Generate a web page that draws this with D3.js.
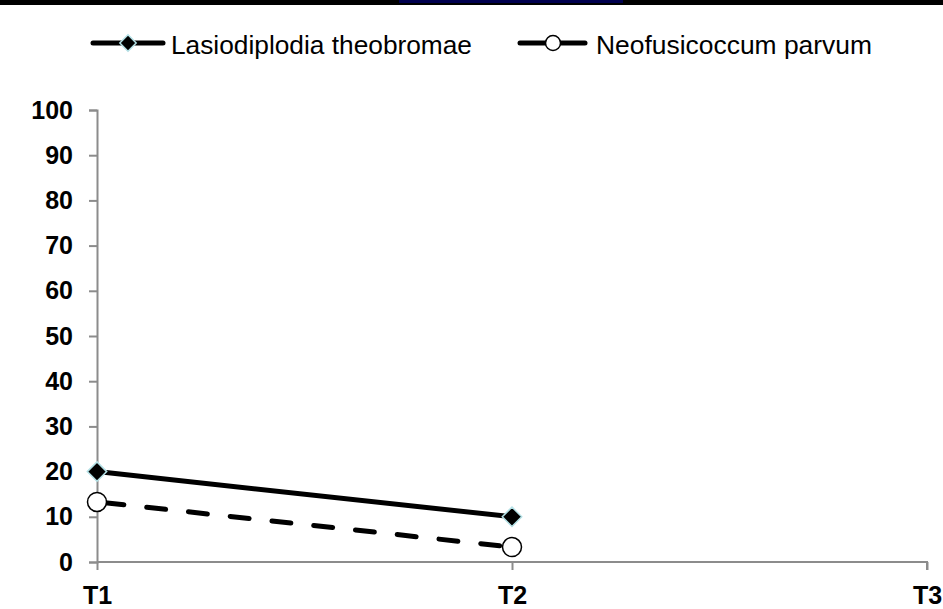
<!DOCTYPE html>
<html>

<head>
    <meta charset="UTF-8">
    <title>Line chart</title>
    <style>
        body {
            margin: 0;
            background: #fff;
        }

        svg {
            display: block;
            font-family: Arial, "Liberation Sans", sans-serif;
        }

        .axis path,
        .axis line {
            stroke: #8c8c8c;
            stroke-width: 2px;
        }

        .axis text {
            font-weight: bold;
            font-size: 25px;
            fill: #000;
        }
    </style>
</head>

<body>
    <div class="chartBox"></div>

    <script src="https://d3js.org/d3.v7.min.js"></script>
    <script>
        // data
        const categories = ["T1", "T2", "T3"];
        const lasiodiplodia = [20, 10, null];
        const neofusicoccum = [13.3, 3.3, null];
        const yTicks = [0, 10, 20, 30, 40, 50, 60, 70, 80, 90, 100];
        const seriesNames = ["Lasiodiplodia theobromae", "Neofusicoccum parvum"];

        const width = 943, height = 609;
        const plot = { left: 97, right: 927, top: 110, bottom: 562 };

        const svg = d3.select(".chartBox")
            .append("svg")
            .attr("width", width)
            .attr("height", height);

        // top strip
        svg.append("rect")
            .attr("x", 0).attr("y", 0)
            .attr("width", width).attr("height", 5)
            .attr("fill", "#000");
        svg.append("rect")
            .attr("x", 399).attr("y", 0)
            .attr("width", 224).attr("height", 3)
            .attr("fill", "#00004f");

        // scales
        const x = d3.scalePoint()
            .domain(categories)
            .range([plot.left, plot.right]);

        const y = d3.scaleLinear()
            .domain([0, 100])
            .range([plot.bottom, plot.top]);

        // y axis
        svg.append("g")
            .attr("class", "axis")
            .attr("transform", `translate(${plot.left},0)`)
            .call(d3.axisLeft(y).tickValues(yTicks).tickSize(8).tickSizeOuter(8).tickPadding(16));

        // x axis
        const xAxis = svg.append("g")
            .attr("class", "axis")
            .attr("transform", `translate(0,${plot.bottom})`)
            .call(d3.axisBottom(x).tickSize(8).tickSizeOuter(0).tickPadding(16));
        xAxis.select(".domain").attr("d", `M${plot.left},0H${plot.right}V8`);

        // lines
        const line = d3.line()
            .defined(d => d.v != null)
            .x(d => x(d.c))
            .y(d => y(d.v));

        const ltData = categories.map((c, i) => ({ c: c, v: lasiodiplodia[i] }));
        const npData = categories.map((c, i) => ({ c: c, v: neofusicoccum[i] }));

        svg.append("path")
            .datum(ltData)
            .attr("fill", "none")
            .attr("stroke", "#000")
            .attr("stroke-width", 5)
            .attr("d", line);

        svg.append("path")
            .datum(npData)
            .attr("fill", "none")
            .attr("stroke", "#000")
            .attr("stroke-width", 5)
            .attr("stroke-dasharray", "19,23")
            .attr("stroke-dashoffset", -8)
            .attr("stroke-linecap", "round")
            .attr("d", line);

        const diamond = d3.symbol().type(d3.symbolDiamond2);

        // markers
        svg.selectAll(".lt-mark")
            .data(ltData.filter(d => d.v != null))
            .enter()
            .append("path")
            .attr("class", "lt-mark")
            .attr("transform", d => `translate(${x(d.c)},${y(d.v)})`)
            .attr("d", diamond.size(240)())
            .attr("fill", "#000")
            .attr("stroke", "#b4e1e6")
            .attr("stroke-width", 1.5);

        svg.selectAll(".np-mark")
            .data(npData.filter(d => d.v != null))
            .enter()
            .append("circle")
            .attr("class", "np-mark")
            .attr("cx", d => x(d.c))
            .attr("cy", d => y(d.v))
            .attr("r", 9.5)
            .attr("fill", "#fff")
            .attr("stroke", "#000")
            .attr("stroke-width", 1.5);

        // legend
        const legend = svg.append("g").attr("class", "legend");

        const lg1 = legend.append("g").attr("transform", "translate(93,43)");
        lg1.append("line")
            .attr("x1", 0).attr("x2", 70)
            .attr("stroke", "#000").attr("stroke-width", 5)
            .attr("stroke-linecap", "round");
        lg1.append("path")
            .attr("transform", "translate(35,0)")
            .attr("d", diamond.size(170)())
            .attr("fill", "#000")
            .attr("stroke", "#b4e1e6")
            .attr("stroke-width", 1.5);
        lg1.append("text")
            .attr("x", 78).attr("y", 11)
            .attr("font-size", 26)
            .attr("textLength", 301)
            .attr("lengthAdjust", "spacingAndGlyphs")
            .text(seriesNames[0]);

        const lg2 = legend.append("g").attr("transform", "translate(520,43)");
        lg2.append("line")
            .attr("x1", 0).attr("x2", 65)
            .attr("stroke", "#000").attr("stroke-width", 5)
            .attr("stroke-linecap", "round");
        lg2.append("circle")
            .attr("cx", 33).attr("cy", 0).attr("r", 7.5)
            .attr("fill", "#fff")
            .attr("stroke", "#000")
            .attr("stroke-width", 1.5);
        lg2.append("text")
            .attr("x", 76).attr("y", 11)
            .attr("font-size", 26)
            .attr("textLength", 276)
            .attr("lengthAdjust", "spacingAndGlyphs")
            .text(seriesNames[1]);
    </script>
</body>

</html>
